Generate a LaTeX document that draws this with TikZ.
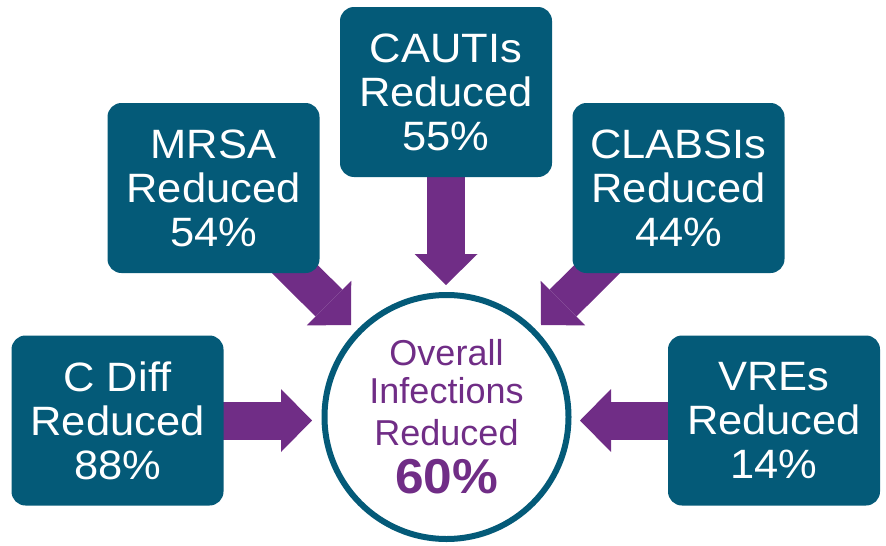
\documentclass[tikz,border=0pt]{standalone}
\usepackage{fontspec}
\setmainfont{Liberation Sans}
\newfontfamily\boxfont[FakeStretch=1.06]{Liberation Sans}
\newfontfamily\bigfont[FakeStretch=1.05]{Liberation Sans}
\usetikzlibrary{arrows.meta,backgrounds}
\definecolor{tealbox}{RGB}{4,90,120}
\definecolor{purp}{RGB}{112,45,134}
\begin{document}
\begin{tikzpicture}[x=1pt,y=-1pt,
  box/.style={fill=tealbox, rounded corners=14pt, minimum width=212pt, minimum height=170pt,
    inner sep=0pt, text=white, align=center, font=\boxfont\fontsize{41}{44}\selectfont},
  hub/.style={circle, draw=tealbox, line width=6pt, fill=white, minimum size=244pt,
    inner sep=0pt, text=purp, align=center, font=\fontsize{36}{38}\selectfont},
  fat/.style={draw=purp, line width=38pt,
    -{Triangle[width=63pt,length=31pt,line width=0pt,fill=purp,color=purp]}}]
\useasboundingbox (0,0) rectangle (886,546);

\node[box] (cauti) at (446,92) {CAUTIs\\Reduced\\55\%};
\node[box] (mrsa) at (213.5,188) {MRSA\\Reduced\\54\%};
\node[box] (clabsi) at (678.5,188) {CLABSIs\\Reduced\\44\%};
\node[box] (cdiff) at (117.5,420.5) {C Diff\\Reduced\\88\%};
\node[box] (vre) at (774,420.5) {VREs\\Reduced\\14\%};
\node[hub] (hub) at (446.5,417) {Overall\\Infections\\[4pt]Reduced\\[10pt]{\bigfont\fontsize{49}{49}\selectfont\bfseries 60\%}};

\coordinate (tC) at (446,285);
\coordinate (tL) at (312,420.5);
\coordinate (tR) at (580,420.5);
\coordinate (tML) at (351,325);
\coordinate (tMR) at (541,325);

\begin{scope}[on background layer]
\draw[fat] (cauti.center) -- (tC);
\draw[fat] (cdiff.center) -- (tL);
\draw[fat] (vre.center) -- (tR);
\draw[fat] (mrsa.center) -- (tML);
\draw[fat] (clabsi.center) -- (tMR);
\end{scope}
\end{tikzpicture}
\end{document}
